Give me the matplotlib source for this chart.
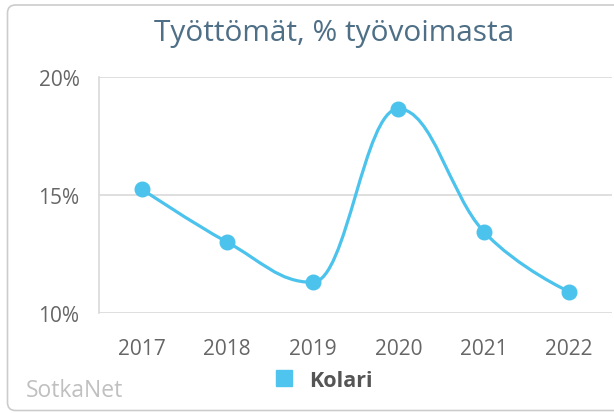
import numpy as np
import matplotlib
matplotlib.use('Agg')
import matplotlib.pyplot as plt
from matplotlib.path import Path
from matplotlib.patches import PathPatch, FancyBboxPatch
from matplotlib.lines import Line2D
from matplotlib.transforms import IdentityTransform

plt.rcParams['font.family'] = ['Open Sans', 'DejaVu Sans']

years = ['2017', '2018', '2019', '2020', '2021', '2022']
values = [15.25, 13.0, 11.3, 18.65, 13.45, 10.9]
series_name = 'Kolari'
title = 'Työttömät, % työvoimasta'
credit = 'SotkaNet'
yticks = [10, 15, 20]

line_color = '#4cc3ec'


def spline_path(xs, ys, smoothing=1.5):
    # Highcharts-like spline control points
    denom = smoothing + 1
    n = len(xs)
    right = [None] * n
    verts = [(xs[0], ys[0])]
    codes = [Path.MOVETO]
    for i in range(1, n):
        x, y = xs[i], ys[i]
        lcx, lcy = x, y
        if i < n - 1:
            lx, ly = xs[i - 1], ys[i - 1]
            nx, ny = xs[i + 1], ys[i + 1]
            lcx = (smoothing * x + lx) / denom
            lcy = (smoothing * y + ly) / denom
            rcx = (smoothing * x + nx) / denom
            rcy = (smoothing * y + ny) / denom
            corr = (rcy - lcy) * (rcx - x) / (rcx - lcx) + y - rcy
            lcy += corr
            rcy += corr
            if lcy > ly and lcy > y:
                lcy = max(ly, y); rcy = 2 * y - lcy
            elif lcy < ly and lcy < y:
                lcy = min(ly, y); rcy = 2 * y - lcy
            if rcy > ny and rcy > y:
                rcy = max(ny, y); lcy = 2 * y - rcy
            elif rcy < ny and rcy < y:
                rcy = min(ny, y); lcy = 2 * y - rcy
            right[i] = (rcx, rcy)
        prev = right[i - 1] if right[i - 1] is not None else (xs[i - 1], ys[i - 1])
        verts += [prev, (lcx, lcy), (x, y)]
        codes += [Path.CURVE4] * 3
    return Path(verts, codes)


W, H = 614, 414
fig = plt.figure(figsize=(W / 100, H / 100), dpi=100)
fig.patch.set_facecolor('white')

# card border
card = FancyBboxPatch((7.5, 2.5), 700, 405.5, boxstyle='round,pad=0,rounding_size=8',
                      transform=IdentityTransform(), facecolor='none',
                      edgecolor='#cccccc', linewidth=1.2, zorder=-1)
fig.patches.append(card)

ax = fig.add_axes([99 / W, 1 - 314 / H, 513 / W, 236 / H])
ax.set_facecolor('none')

x = np.arange(len(years))
ax.add_patch(PathPatch(spline_path(list(x), values), facecolor='none',
                       edgecolor=line_color, linewidth=2.3, zorder=3))
ax.plot(x, values, 'o', color=line_color, markersize=10.5, zorder=4)

ax.set_xlim(-0.5, len(years) - 0.5)
ax.set_ylim(10, 20)
ax.set_yticks(yticks)
ax.set_yticklabels([f'{v}%' for v in yticks])
ax.set_xticks(x)
ax.set_xticklabels(years)
ax.grid(axis='y', color='#d9d9d9', linewidth=1.2)
ax.set_axisbelow(True)
for s in ['top', 'right', 'bottom']:
    ax.spines[s].set_visible(False)
ax.spines['left'].set_color('#d9d9d9')
ax.spines['left'].set_linewidth(1.2)
ax.tick_params(length=0, labelsize=15, colors='#666666')
ax.tick_params(axis='y', pad=14)
ax.tick_params(axis='x', pad=18)

fig.text(334 / W, 1 - 33 / H, title, ha='center', va='center',
         fontsize=21.5, color='#4e6f86')
fig.text(26 / W, 1 - 391 / H, credit, ha='left', va='center',
         fontsize=16.5, color='#c0c0c0')

handle = Line2D([], [], marker='s', ls='none', color='#4fc4ee', markersize=11.5)
leg = fig.legend([handle], [series_name], loc='center left',
                 bbox_to_anchor=(262.5 / W, 1 - 381.5 / H), frameon=False,
                 borderpad=0, handletextpad=0.65, handlelength=1.0,
                 prop={'weight': 'bold', 'size': 15.5})
for t in leg.get_texts():
    t.set_color('#555555')

fig.savefig('out.png', dpi=100)
